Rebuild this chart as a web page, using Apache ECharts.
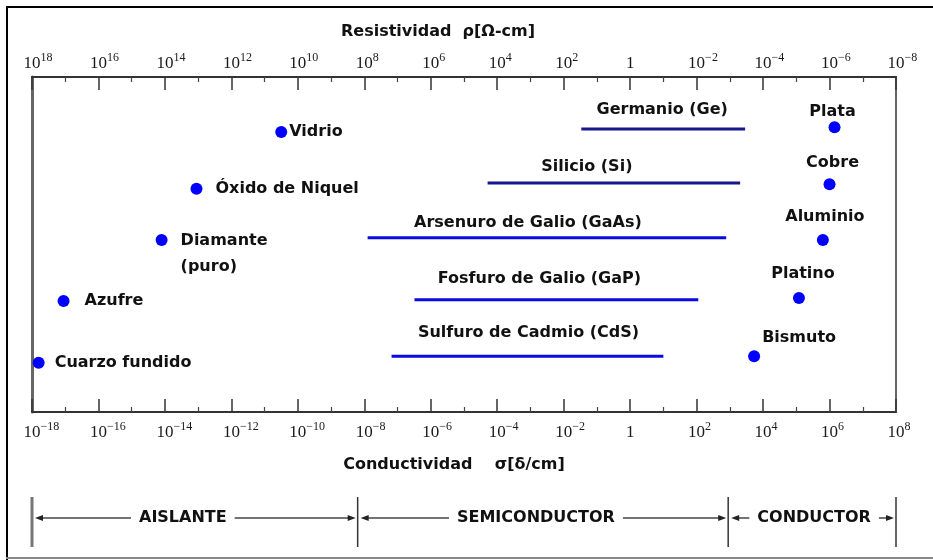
<!DOCTYPE html>
<html><head><meta charset="utf-8">
<script src="https://cdn.jsdelivr.net/npm/echarts@6/dist/echarts.min.js"></script>
<style>html,body{margin:0;padding:0;background:#fff}#c{width:933px;height:560px}</style>
</head><body><div id="c"></div>
<script>
// ---------------- data ----------------
const axisMin = -18, axisMax = 8, axisStep = 2;          // log10 of conductivity
const insulatorNames = ['Vidrio', 'Óxido de Niquel', 'Diamante\n(puro)', 'Azufre', 'Cuarzo fundido'];
const insulatorLogSigma = [-10.5, -13.05, -14.1, -17.05, -17.8];
const insulatorRow = [0.985, 2.0, 2.92, 4.01, 5.12];
const metalNames = ['Plata', 'Cobre', 'Aluminio', 'Platino', 'Bismuto'];
const metalLogSigma = [6.15, 6.0, 5.8, 5.08, 3.73];
const metalRow = [0.9, 1.92, 2.92, 3.96, 5.0];
const semiNames = ['Germanio (Ge)', 'Silicio (Si)', 'Arsenuro de Galio (GaAs)', 'Fosfuro de Galio (GaP)', 'Sulfuro de Cadmio (CdS)'];
const semiLow = [-1.47, -4.29, -7.9, -6.49, -7.18];
const semiHigh = [3.46, 3.31, 2.89, 2.05, 1.0];
const semiRow = [0.93, 1.9, 2.88, 3.99, 5.0];
const regionNames = ['AISLANTE', 'SEMICONDUCTOR', 'CONDUCTOR'];
const regionBounds = [-18, -8.2, 2.95, 8];

// ---------------- layout / style (not data) ----------------
const LABEL_FONT = 'DejaVu Sans';
const TXT = '#111';
const insulatorLabelLayout = [
  { position: 'right', distance: 2 },
  { position: 'right', distance: 13 },
  { position: 'right', distance: 13, offset: [0, 14], lineHeight: 26 },
  { position: 'right', distance: 15 },
  { position: 'right', distance: 10 }
];
const metalLabelOffset = [[-2, -15], [3, -21], [2, -23], [4, -24], [45, -18]];
const semiLabelOffset = [[-1, -19], [-27, -16], [-19, -15], [-17, -21], [1, -23]];
const semiColors = ['#18188a', '#18188a', '#0a0ae0', '#0a0ae0', '#0a0ae0'];
const regionTextDx = [-12, -7, 2];
const regionArrowRow = 0.58;

const measureCtx = document.createElement('canvas').getContext('2d');
function textWidth(t) { measureCtx.font = 'bold 16px "' + LABEL_FONT + '"'; return measureCtx.measureText(t).width; }

function expLabel(e) {
  if (e === 0) return '{b|1}';
  const s = (e < 0 ? '\u2212' : '') + Math.abs(e);
  return '{h|' + s + '}{b|10}{s|' + s + '}';
}
const richTicks = {
  b: { fontFamily: 'Liberation Serif', fontSize: 17, color: '#1a1a1a', lineHeight: 20, verticalAlign: 'bottom' },
  s: { fontFamily: 'Liberation Serif', fontSize: 12, color: '#1a1a1a', lineHeight: 10, verticalAlign: 'top' },
  h: { fontFamily: 'Liberation Serif', fontSize: 12, color: 'rgba(0,0,0,0)', lineHeight: 10, verticalAlign: 'top' }
};
function baseAxis(extra) {
  return Object.assign({
    type: 'value', min: axisMin, max: axisMax, interval: axisStep,
    axisLine: { show: true, onZero: false, lineStyle: { color: '#333', width: 2 } },
    axisTick: { show: true, inside: true, length: 13, lineStyle: { color: '#333', width: 1.5 } },
    minorTick: { show: true, splitNumber: 2, length: 5, lineStyle: { color: '#444', width: 1.2 } },
    splitLine: { show: false },
    minorSplitLine: { show: false }
  }, extra);
}
const nameStyle = { fontFamily: LABEL_FONT, fontWeight: 'bold', fontSize: 16, color: TXT };

const chart = echarts.init(document.getElementById('c'), null, { renderer: 'canvas' });
chart.setOption({
  backgroundColor: '#fff',
  animation: false,
  grid: [
    { left: 32, right: 37, top: 77, height: 335, show: true, borderColor: '#666', borderWidth: 2, containLabel: false },
    { left: 32, right: 37, top: 497, height: 50, show: false }
  ],
  xAxis: [
    baseAxis({
      gridIndex: 0, position: 'bottom',
      axisLabel: { margin: 9, showMinLabel: true, showMaxLabel: true, hideOverlap: false,
        formatter: v => expLabel(v), rich: richTicks },
      name: 'Conductividad    σ[δ/cm]', nameLocation: 'middle', nameGap: 45,
      nameTextStyle: Object.assign({ padding: [0, 20, 0, 0] }, nameStyle)
    }),
    baseAxis({
      gridIndex: 0, position: 'top',
      axisLabel: { margin: 5, showMinLabel: true, showMaxLabel: true, hideOverlap: false,
        formatter: v => expLabel(-v), rich: richTicks },
      name: 'Resistividad  ρ[Ω-cm]', nameLocation: 'middle', nameGap: 37,
      nameTextStyle: Object.assign({ padding: [0, 52, 0, 0] }, nameStyle)
    }),
    { type: 'value', gridIndex: 1, min: axisMin, max: axisMax, show: false }
  ],
  yAxis: [
    { type: 'value', gridIndex: 0, min: 0, max: 6, inverse: true, position: 'left',
      axisLine: { show: true, onZero: false, lineStyle: { color: '#666', width: 3 } },
      axisTick: { show: false }, axisLabel: { show: false }, splitLine: { show: false } },
    { type: 'value', gridIndex: 1, min: 0, max: 1, show: false }
  ],
  graphic: [
    { type: 'line', shape: { x1: 7, y1: 7, x2: 7, y2: 560 }, style: { stroke: '#000', lineWidth: 2 } },
    { type: 'line', shape: { x1: 6, y1: 7, x2: 933, y2: 7 }, style: { stroke: '#000', lineWidth: 2 } },
    { type: 'line', shape: { x1: 6, y1: 558, x2: 933, y2: 558 }, style: { stroke: '#888', lineWidth: 2 } }
  ],
  series: [
    {
      type: 'scatter', name: 'aislantes', xAxisIndex: 0, yAxisIndex: 0,
      symbol: 'circle', symbolSize: 12, itemStyle: { color: '#0000ff', opacity: 1 },
      emphasis: { disabled: true },
      data: insulatorNames.map((n, i) => ({
        name: n, value: [insulatorLogSigma[i], insulatorRow[i]],
        label: Object.assign({ show: true, formatter: n, fontFamily: LABEL_FONT, fontWeight: 'bold',
          fontSize: 16, color: TXT, opacity: 1, align: 'left' }, insulatorLabelLayout[i])
      }))
    },
    {
      type: 'scatter', name: 'metales', xAxisIndex: 0, yAxisIndex: 0,
      symbol: 'circle', symbolSize: 12, itemStyle: { color: '#0000ff', opacity: 1 },
      emphasis: { disabled: true },
      data: metalNames.map((n, i) => ({
        name: n, value: [metalLogSigma[i], metalRow[i]],
        label: { show: true, formatter: n, position: 'inside', offset: metalLabelOffset[i],
          fontFamily: LABEL_FONT, fontWeight: 'bold', fontSize: 16, color: TXT, opacity: 1 }
      }))
    },
    {
      type: 'custom', name: 'semiconductores', xAxisIndex: 0, yAxisIndex: 0,
      data: semiNames.map((n, i) => [semiLow[i], semiHigh[i], semiRow[i]]),
      encode: { x: [0, 1], y: 2 },
      renderItem: function (params, api) {
        const i = params.dataIndex;
        const p1 = api.coord([api.value(0), api.value(2)]);
        const p2 = api.coord([api.value(1), api.value(2)]);
        const off = semiLabelOffset[i];
        return { type: 'group', children: [
          { type: 'line', shape: { x1: p1[0], y1: p1[1], x2: p2[0], y2: p2[1] },
            style: { stroke: semiColors[i], lineWidth: 3 } },
          { type: 'text', x: (p1[0] + p2[0]) / 2 + off[0], y: p1[1] + off[1],
            style: { text: semiNames[i], align: 'center', verticalAlign: 'middle',
              font: 'bold 16px "' + LABEL_FONT + '"', fill: TXT } }
        ] };
      }
    },
    {
      type: 'custom', name: 'regiones', xAxisIndex: 2, yAxisIndex: 1,
      data: regionNames.map((n, i) => [regionBounds[i], regionBounds[i + 1]]),
      encode: { x: [0, 1] },
      renderItem: function (params, api) {
        const i = params.dataIndex;
        const lo = api.value(0), hi = api.value(1);
        const a = api.coord([lo, regionArrowRow]);
        const b = api.coord([hi, regionArrowRow]);
        const top = api.coord([lo, 1])[1], bot = api.coord([lo, 0])[1];
        const y = a[1];
        const name = regionNames[i];
        const w = textWidth(name);
        const cx = (a[0] + b[0]) / 2 + regionTextDx[i];
        const tl = cx - w / 2 - 8, tr = cx + w / 2 + 8;
        const ax1 = a[0] + 3, ax2 = b[0] - 2;
        const stroke = '#444';
        const kids = [
          { type: 'line', shape: { x1: a[0], y1: top, x2: a[0], y2: bot },
            style: { stroke: i === 0 ? '#777' : '#333', lineWidth: i === 0 ? 3 : 1.5 } },
          { type: 'line', shape: { x1: ax1 + 6, y1: y, x2: tl, y2: y }, style: { stroke: stroke, lineWidth: 1.5 } },
          { type: 'polygon', shape: { points: [[ax1, y], [ax1 + 8, y - 3], [ax1 + 8, y + 3]] }, style: { fill: '#222' } },
          { type: 'line', shape: { x1: tr, y1: y, x2: ax2 - 6, y2: y }, style: { stroke: stroke, lineWidth: 1.5 } },
          { type: 'polygon', shape: { points: [[ax2, y], [ax2 - 8, y - 3], [ax2 - 8, y + 3]] }, style: { fill: '#222' } },
          { type: 'text', x: cx, y: y, style: { text: name, align: 'center', verticalAlign: 'middle',
              font: 'bold 16px "' + LABEL_FONT + '"', fill: TXT } }
        ];
        if (i === regionNames.length - 1) {
          kids.push({ type: 'line', shape: { x1: b[0], y1: top, x2: b[0], y2: bot },
            style: { stroke: '#333', lineWidth: 1.5 } });
        }
        return { type: 'group', children: kids };
      }
    }
  ]
});
</script>
</body></html>
